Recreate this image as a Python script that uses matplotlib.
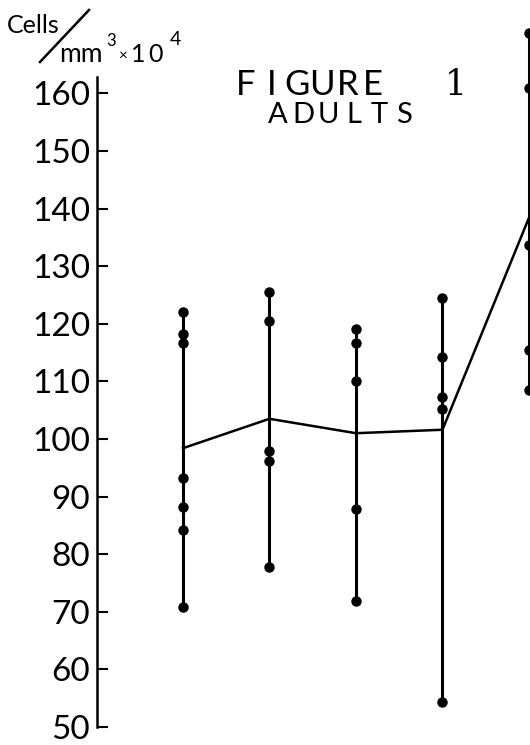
import matplotlib
matplotlib.use("Agg")
import matplotlib.pyplot as plt
from matplotlib.lines import Line2D

W, H = 530, 745

# groups along the x axis (no labels in the original)
groups = [1, 2, 3, 4, 5]
# individual counts per group (cells/mm3 x 10^4)
g1 = [122.1, 118.2, 116.6, 93.2, 88.2, 84.2, 70.8]
g2 = [125.5, 120.5, 97.9, 96.2, 77.7]
g3 = [119.1, 116.6, 110.1, 87.9, 71.9]
g4 = [124.4, 114.3, 107.2, 105.2, 54.3]
g5 = [170.5, 160.9, 133.7, 115.5, 108.5]
means = [98.4, 103.5, 101.0, 101.6, 138.4]
yticks = [50, 60, 70, 80, 90, 100, 110, 120, 130, 140, 150, 160]

plt.rcParams["font.family"] = ["Lato", "DejaVu Sans"]


def fx(px):
    return px / W


def fy(py):
    return 1 - py / H


fig = plt.figure(figsize=(W / 100, H / 100), dpi=100)
ax = fig.add_axes([fx(97), fy(727), fx(530) - fx(97), fy(0) - fy(727)])
ax.set_xlim(0.006, 5.012)
ax.set_ylim(50, 176.2)

for x, vals in zip(groups, [g1, g2, g3, g4, g5]):
    ax.plot([x, x], [min(vals), max(vals)], color="black", lw=2.2,
            solid_capstyle="butt", zorder=2)
    ax.plot([x] * len(vals), vals, "o", color="black", ms=6.5, zorder=3)

ax.plot(groups, means, color="black", lw=1.8, zorder=2)

for s in ["top", "right", "bottom"]:
    ax.spines[s].set_visible(False)
ax.spines["left"].set_linewidth(1.8)
ax.spines["left"].set_bounds(50, 162.8)
ax.set_xticks([])
ax.set_yticks(yticks)
ax.set_yticklabels([str(t) for t in yticks])
ax.tick_params(axis="y", direction="in", length=8, width=1.5, pad=5,
               labelsize=24)


def spaced(text, x0, x1, y, size):
    # spread letters evenly between two pixel positions
    n = len(text)
    step = (x1 - x0) / (n - 1)
    for i, ch in enumerate(text):
        fig.text(fx(x0 + i * step), fy(y), ch, fontsize=size,
                 ha="center", va="baseline", color="black")


spaced("FIGURE", 246, 373, 95, 25)
fig.text(fx(456), fy(95), "1", fontsize=25, family="DejaVu Serif",
         ha="center", va="baseline")
spaced("ADULTS", 278, 404, 123, 21)

# y axis unit label
fig.text(fx(7), fy(33), "Cells", fontsize=18, ha="left", va="baseline")
fig.text(fx(59), fy(62), "mm", fontsize=19, ha="left", va="baseline")
fig.text(fx(106), fy(46), "3", fontsize=12, ha="left", va="baseline")
fig.text(fx(119), fy(60), "\u00d7", fontsize=11, ha="left", va="baseline")
fig.text(fx(131), fy(62), "1", fontsize=18, ha="left", va="baseline")
fig.text(fx(148), fy(62), "0", fontsize=18, ha="left", va="baseline")
fig.text(fx(170), fy(45), "4", fontsize=14, ha="left", va="baseline")
fig.add_artist(Line2D([fx(40), fx(89)], [fy(62), fy(10)], color="black",
                      lw=1.8, transform=fig.transFigure))

fig.savefig("out.png", dpi=100)
